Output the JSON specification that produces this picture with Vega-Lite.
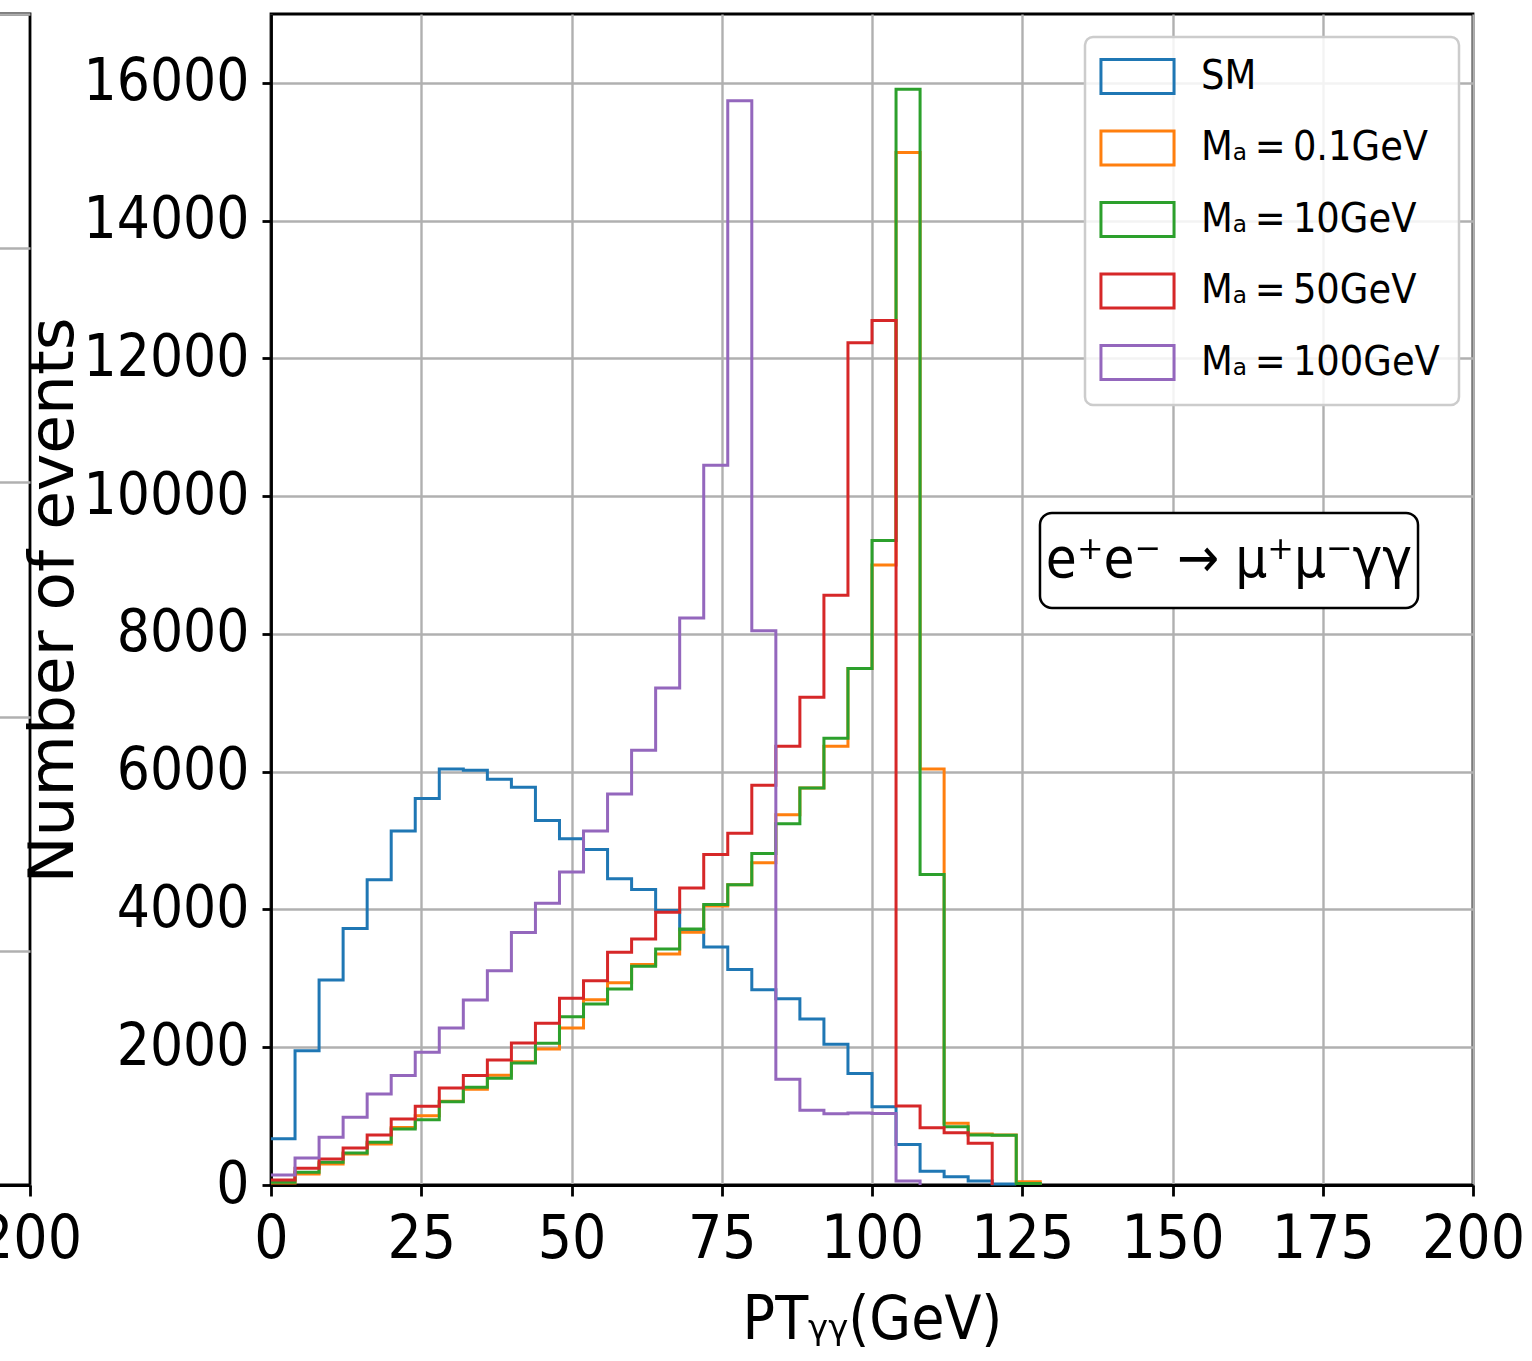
{
  "$schema": "https://vega.github.io/schema/vega-lite/v6.json",
  "autosize": {"type": "none"},
  "padding": {"left": -1172, "top": 14, "right": 2704, "bottom": 1347},
  "background": "white",
  "bounds": "flush",
  "spacing": 241,
  "config": {
    "view": {"stroke": "black", "strokeWidth": 2.8},
    "font": "DejaVu Sans Condensed, DejaVu Sans",
    "axis": {
      "domainColor": "black",
      "domainWidth": 2.8,
      "tickColor": "black",
      "tickWidth": 2.8,
      "gridColor": "#b0b0b0",
      "gridWidth": 2.4,
      "labelColor": "black",
      "titleColor": "black",
      "labelFont": "DejaVu Sans Condensed, DejaVu Sans",
      "labelLimit": 0,
      "titleFontWeight": "normal"
    }
  },
  "datasets": {
    "hist": [
      {"s": "SM", "x": 0, "n": 670}, {"s": "SM", "x": 4, "n": 1950}, {"s": "SM", "x": 8, "n": 2975}, {"s": "SM", "x": 12, "n": 3725},
      {"s": "SM", "x": 16, "n": 4430}, {"s": "SM", "x": 20, "n": 5140}, {"s": "SM", "x": 24, "n": 5610}, {"s": "SM", "x": 28, "n": 6040},
      {"s": "SM", "x": 32, "n": 6020}, {"s": "SM", "x": 36, "n": 5890}, {"s": "SM", "x": 40, "n": 5775}, {"s": "SM", "x": 44, "n": 5290},
      {"s": "SM", "x": 48, "n": 5025}, {"s": "SM", "x": 52, "n": 4870}, {"s": "SM", "x": 56, "n": 4445}, {"s": "SM", "x": 60, "n": 4290},
      {"s": "SM", "x": 64, "n": 3985}, {"s": "SM", "x": 68, "n": 3705}, {"s": "SM", "x": 72, "n": 3455}, {"s": "SM", "x": 76, "n": 3130},
      {"s": "SM", "x": 80, "n": 2835}, {"s": "SM", "x": 84, "n": 2705}, {"s": "SM", "x": 88, "n": 2410}, {"s": "SM", "x": 92, "n": 2045},
      {"s": "SM", "x": 96, "n": 1620}, {"s": "SM", "x": 100, "n": 1135}, {"s": "SM", "x": 104, "n": 588}, {"s": "SM", "x": 108, "n": 200},
      {"s": "SM", "x": 112, "n": 118}, {"s": "SM", "x": 116, "n": 58}, {"s": "SM", "x": 120, "n": 15}, {"s": "SM", "x": 124, "n": 0},

      {"s": "Mₐ = 0.1GeV", "x": 0, "n": 30}, {"s": "Mₐ = 0.1GeV", "x": 4, "n": 160}, {"s": "Mₐ = 0.1GeV", "x": 8, "n": 305}, {"s": "Mₐ = 0.1GeV", "x": 12, "n": 450},
      {"s": "Mₐ = 0.1GeV", "x": 16, "n": 595}, {"s": "Mₐ = 0.1GeV", "x": 20, "n": 835}, {"s": "Mₐ = 0.1GeV", "x": 24, "n": 1005}, {"s": "Mₐ = 0.1GeV", "x": 28, "n": 1215},
      {"s": "Mₐ = 0.1GeV", "x": 32, "n": 1390}, {"s": "Mₐ = 0.1GeV", "x": 36, "n": 1595}, {"s": "Mₐ = 0.1GeV", "x": 40, "n": 1790}, {"s": "Mₐ = 0.1GeV", "x": 44, "n": 1975},
      {"s": "Mₐ = 0.1GeV", "x": 48, "n": 2280}, {"s": "Mₐ = 0.1GeV", "x": 52, "n": 2690}, {"s": "Mₐ = 0.1GeV", "x": 56, "n": 2935}, {"s": "Mₐ = 0.1GeV", "x": 60, "n": 3200},
      {"s": "Mₐ = 0.1GeV", "x": 64, "n": 3355}, {"s": "Mₐ = 0.1GeV", "x": 68, "n": 3670}, {"s": "Mₐ = 0.1GeV", "x": 72, "n": 4050}, {"s": "Mₐ = 0.1GeV", "x": 76, "n": 4360},
      {"s": "Mₐ = 0.1GeV", "x": 80, "n": 4680}, {"s": "Mₐ = 0.1GeV", "x": 84, "n": 5375}, {"s": "Mₐ = 0.1GeV", "x": 88, "n": 5765}, {"s": "Mₐ = 0.1GeV", "x": 92, "n": 6370},
      {"s": "Mₐ = 0.1GeV", "x": 96, "n": 7500}, {"s": "Mₐ = 0.1GeV", "x": 100, "n": 9000}, {"s": "Mₐ = 0.1GeV", "x": 104, "n": 14990}, {"s": "Mₐ = 0.1GeV", "x": 108, "n": 6040},
      {"s": "Mₐ = 0.1GeV", "x": 112, "n": 895}, {"s": "Mₐ = 0.1GeV", "x": 116, "n": 740}, {"s": "Mₐ = 0.1GeV", "x": 120, "n": 725}, {"s": "Mₐ = 0.1GeV", "x": 124, "n": 48},
      {"s": "Mₐ = 0.1GeV", "x": 128, "n": 0},

      {"s": "Mₐ = 10GeV", "x": 0, "n": 39}, {"s": "Mₐ = 10GeV", "x": 4, "n": 184}, {"s": "Mₐ = 10GeV", "x": 8, "n": 329}, {"s": "Mₐ = 10GeV", "x": 12, "n": 465},
      {"s": "Mₐ = 10GeV", "x": 16, "n": 620}, {"s": "Mₐ = 10GeV", "x": 20, "n": 813}, {"s": "Mₐ = 10GeV", "x": 24, "n": 949}, {"s": "Mₐ = 10GeV", "x": 28, "n": 1210},
      {"s": "Mₐ = 10GeV", "x": 32, "n": 1418}, {"s": "Mₐ = 10GeV", "x": 36, "n": 1549}, {"s": "Mₐ = 10GeV", "x": 40, "n": 1772}, {"s": "Mₐ = 10GeV", "x": 44, "n": 2057},
      {"s": "Mₐ = 10GeV", "x": 48, "n": 2444}, {"s": "Mₐ = 10GeV", "x": 52, "n": 2628}, {"s": "Mₐ = 10GeV", "x": 56, "n": 2846}, {"s": "Mₐ = 10GeV", "x": 60, "n": 3175},
      {"s": "Mₐ = 10GeV", "x": 64, "n": 3427}, {"s": "Mₐ = 10GeV", "x": 68, "n": 3717}, {"s": "Mₐ = 10GeV", "x": 72, "n": 4071}, {"s": "Mₐ = 10GeV", "x": 76, "n": 4360},
      {"s": "Mₐ = 10GeV", "x": 80, "n": 4812}, {"s": "Mₐ = 10GeV", "x": 84, "n": 5246}, {"s": "Mₐ = 10GeV", "x": 88, "n": 5765}, {"s": "Mₐ = 10GeV", "x": 92, "n": 6485},
      {"s": "Mₐ = 10GeV", "x": 96, "n": 7497}, {"s": "Mₐ = 10GeV", "x": 100, "n": 9357}, {"s": "Mₐ = 10GeV", "x": 104, "n": 15909}, {"s": "Mₐ = 10GeV", "x": 108, "n": 4507},
      {"s": "Mₐ = 10GeV", "x": 112, "n": 847}, {"s": "Mₐ = 10GeV", "x": 116, "n": 726}, {"s": "Mₐ = 10GeV", "x": 120, "n": 722}, {"s": "Mₐ = 10GeV", "x": 124, "n": 20},
      {"s": "Mₐ = 10GeV", "x": 128, "n": 0},

      {"s": "Mₐ = 50GeV", "x": 0, "n": 73}, {"s": "Mₐ = 50GeV", "x": 4, "n": 242}, {"s": "Mₐ = 50GeV", "x": 8, "n": 378}, {"s": "Mₐ = 50GeV", "x": 12, "n": 537},
      {"s": "Mₐ = 50GeV", "x": 16, "n": 726}, {"s": "Mₐ = 50GeV", "x": 20, "n": 958}, {"s": "Mₐ = 50GeV", "x": 24, "n": 1142}, {"s": "Mₐ = 50GeV", "x": 28, "n": 1409},
      {"s": "Mₐ = 50GeV", "x": 32, "n": 1588}, {"s": "Mₐ = 50GeV", "x": 36, "n": 1815}, {"s": "Mₐ = 50GeV", "x": 40, "n": 2062}, {"s": "Mₐ = 50GeV", "x": 44, "n": 2348},
      {"s": "Mₐ = 50GeV", "x": 48, "n": 2711}, {"s": "Mₐ = 50GeV", "x": 52, "n": 2967}, {"s": "Mₐ = 50GeV", "x": 56, "n": 3379}, {"s": "Mₐ = 50GeV", "x": 60, "n": 3572},
      {"s": "Mₐ = 50GeV", "x": 64, "n": 3959}, {"s": "Mₐ = 50GeV", "x": 68, "n": 4313}, {"s": "Mₐ = 50GeV", "x": 72, "n": 4797}, {"s": "Mₐ = 50GeV", "x": 76, "n": 5108},
      {"s": "Mₐ = 50GeV", "x": 80, "n": 5804}, {"s": "Mₐ = 50GeV", "x": 84, "n": 6368}, {"s": "Mₐ = 50GeV", "x": 88, "n": 7082}, {"s": "Mₐ = 50GeV", "x": 92, "n": 8560},
      {"s": "Mₐ = 50GeV", "x": 96, "n": 12228}, {"s": "Mₐ = 50GeV", "x": 100, "n": 12552}, {"s": "Mₐ = 50GeV", "x": 104, "n": 1147}, {"s": "Mₐ = 50GeV", "x": 108, "n": 832},
      {"s": "Mₐ = 50GeV", "x": 112, "n": 760}, {"s": "Mₐ = 50GeV", "x": 116, "n": 605}, {"s": "Mₐ = 50GeV", "x": 120, "n": 0},

      {"s": "Mₐ = 100GeV", "x": 0, "n": 145}, {"s": "Mₐ = 100GeV", "x": 4, "n": 392}, {"s": "Mₐ = 100GeV", "x": 8, "n": 692}, {"s": "Mₐ = 100GeV", "x": 12, "n": 983},
      {"s": "Mₐ = 100GeV", "x": 16, "n": 1321}, {"s": "Mₐ = 100GeV", "x": 20, "n": 1588}, {"s": "Mₐ = 100GeV", "x": 24, "n": 1926}, {"s": "Mₐ = 100GeV", "x": 28, "n": 2280},
      {"s": "Mₐ = 100GeV", "x": 32, "n": 2686}, {"s": "Mₐ = 100GeV", "x": 36, "n": 3112}, {"s": "Mₐ = 100GeV", "x": 40, "n": 3664}, {"s": "Mₐ = 100GeV", "x": 44, "n": 4090},
      {"s": "Mₐ = 100GeV", "x": 48, "n": 4545}, {"s": "Mₐ = 100GeV", "x": 52, "n": 5140}, {"s": "Mₐ = 100GeV", "x": 56, "n": 5678}, {"s": "Mₐ = 100GeV", "x": 60, "n": 6312},
      {"s": "Mₐ = 100GeV", "x": 64, "n": 7216}, {"s": "Mₐ = 100GeV", "x": 68, "n": 8233}, {"s": "Mₐ = 100GeV", "x": 72, "n": 10450}, {"s": "Mₐ = 100GeV", "x": 76, "n": 15741},
      {"s": "Mₐ = 100GeV", "x": 80, "n": 8045}, {"s": "Mₐ = 100GeV", "x": 84, "n": 1537}, {"s": "Mₐ = 100GeV", "x": 88, "n": 1085}, {"s": "Mₐ = 100GeV", "x": 92, "n": 1035},
      {"s": "Mₐ = 100GeV", "x": 96, "n": 1045}, {"s": "Mₐ = 100GeV", "x": 100, "n": 1038}, {"s": "Mₐ = 100GeV", "x": 104, "n": 58}, {"s": "Mₐ = 100GeV", "x": 108, "n": 0}
    ],
    "note": [
      {"label": "e⁺e⁻ → μ⁺μ⁻γγ", "x1": 127.95, "x2": 190.85, "y1": 8378, "y2": 9757, "xc": 159.4, "yc": 9067}
    ]
  },
  "hconcat": [
    {
      "width": 1202,
      "height": 1171,
      "data": {"values": []},
      "mark": {"type": "line"},
      "encoding": {
        "x": {
          "field": "x", "type": "quantitative",
          "scale": {"domain": [0, 200], "nice": false, "zero": false},
          "axis": {
            "values": [200],
            "grid": false,
            "labelFontSize": 60, "tickSize": 11, "labelBaseline": "alphabetic", "labelPadding": 61,
            "labelFlush": false, "title": null
          }
        },
        "y": {
          "field": "n", "type": "quantitative",
          "scale": {"domain": [0, 5], "nice": false},
          "axis": {"values": [0, 1, 2, 3, 4, 5], "labels": false, "ticks": false, "title": null}
        }
      }
    },
    {
      "width": 1202,
      "height": 1171,
      "layer": [
        {
          "data": {"name": "hist"},
          "mark": {"type": "line", "interpolate": "step-after", "strokeWidth": 3, "strokeJoin": "miter"},
          "encoding": {
            "x": {
              "field": "x", "type": "quantitative",
              "scale": {"domain": [0, 200], "nice": false, "zero": false},
              "axis": {
                "values": [0, 25, 50, 75, 100, 125, 150, 175, 200],
                "labelFontSize": 60, "tickSize": 11, "labelBaseline": "alphabetic", "labelPadding": 61,
                "labelFlush": false,
                "title": "PTᵧᵧ(GeV)", "titleFontSize": 60, "titleBaseline": "alphabetic",
                "titleX": 601, "titleY": 153, "titleAnchor": "middle", "titleAlign": "center"
              }
            },
            "y": {
              "field": "n", "type": "quantitative",
              "scale": {"domain": [0, 17000], "nice": false},
              "axis": {
                "values": [0, 2000, 4000, 6000, 8000, 10000, 12000, 14000, 16000],
                "format": "d",
                "labelFontSize": 58, "tickSize": 9, "labelPadding": 13, "labelBaseline": "middle",
                "labelFlush": false,
                "title": "Number of events", "titleFontSize": 63, "titleFont": "DejaVu Sans",
                "titleAngle": -90, "titleX": -199, "titleY": 586, "titleBaseline": "alphabetic", "titleAlign": "center", "titleAnchor": "middle"
              }
            },
            "color": {
              "field": "s", "type": "nominal",
              "scale": {
                "domain": ["SM", "Mₐ = 0.1GeV", "Mₐ = 10GeV", "Mₐ = 50GeV", "Mₐ = 100GeV"],
                "range": ["#1f77b4", "#ff7f0e", "#2ca02c", "#d62728", "#9467bd"]
              },
              "legend": {
                "orient": "none", "legendX": 2257, "legendY": 23, "title": null,
                "labelFontSize": 41, "labelFont": "DejaVu Sans Condensed, DejaVu Sans", "labelLimit": 0,
                "labelExpr": "replace(datum.label, ' = ', '\u2009=\u2009')",
                "symbolType": "M-2.15,-1H2.15V1H-2.15Z", "symbolSize": 1156, "symbolStrokeWidth": 3,
                "symbolFillColor": "transparent", "symbolOffset": 13,
                "padding": 19, "rowPadding": 24.5, "labelOffset": 43,
                "strokeColor": "#cccccc", "fillColor": "rgba(255,255,255,0.85)", "cornerRadius": 8,
                "encode": {"legend": {"update": {"strokeWidth": {"value": 2.5}}}}
              }
            }
          }
        },
        {
          "data": {"name": "note"},
          "mark": {"type": "rect", "fill": "white", "stroke": "black", "strokeWidth": 2.5, "cornerRadius": 12},
          "encoding": {
            "x": {"field": "x1", "type": "quantitative"},
            "x2": {"field": "x2"},
            "y": {"field": "y1", "type": "quantitative"},
            "y2": {"field": "y2"}
          }
        },
        {
          "data": {"name": "note"},
          "mark": {"type": "text", "fontSize": 56, "align": "center", "baseline": "middle", "font": "DejaVu Sans Condensed, DejaVu Sans", "color": "black"},
          "encoding": {
            "x": {"field": "xc", "type": "quantitative"},
            "y": {"field": "yc", "type": "quantitative"},
            "text": {"field": "label"}
          }
        }
      ]
    }
  ]
}
